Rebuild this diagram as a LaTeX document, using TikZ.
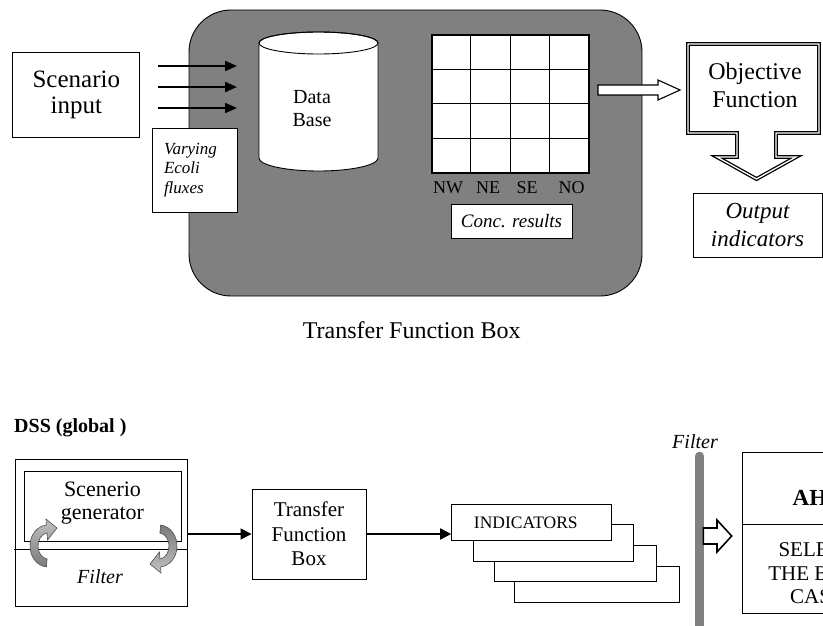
\documentclass[tikz,border=0pt]{standalone}
\usepackage{fontspec}
\setmainfont{Liberation Serif}
\usetikzlibrary{arrows.meta,calc}
\definecolor{panelgray}{HTML}{808080}
\definecolor{arrlight}{HTML}{C2C2C2}
\definecolor{arrdark}{HTML}{7A7A7A}
\definecolor{arredge}{HTML}{505050}
\begin{document}
\begin{tikzpicture}[x=1pt,y=-1pt,line join=miter,
  box/.style={draw=black,fill=white,line width=0.9pt,inner sep=0pt,align=center},
  thickarr/.style={line width=2pt,-{Triangle[length=12pt,width=10pt]}},
  arr/.style={line width=1.5pt,-{Triangle[length=11pt,width=11pt]}},
  hollow/.style={draw=black,fill=white,line width=1.1pt},
  curv/.style={draw=arredge,line width=0.6pt},
  lab/.style={inner sep=0pt,font=\fontsize{18}{20}\selectfont}]
\useasboundingbox (0,0) rectangle (823,626);
\clip (0,0) rectangle (823,626);

% ---------------- top part ----------------
\node[box,minimum width=127pt,minimum height=85pt,font=\fontsize{25}{26}\selectfont] (scen) at (76.3,94.5) {Scenario\\input};

\node[draw=black,fill=panelgray,line width=0.9pt,rounded corners=42pt,minimum width=453pt,minimum height=286pt,inner sep=0pt] (panel) at (415.5,153) {};

% input arrows
\coordinate (a1s) at (158,66);  \coordinate (a1e) at (237,66);
\coordinate (a2s) at (158,87);  \coordinate (a2e) at (237,87);
\coordinate (a3s) at (158,108); \coordinate (a3e) at (237,108);
\draw[thickarr] (a1s) -- (a1e);
\draw[thickarr] (a2s) -- (a2e);
\draw[thickarr] (a3s) -- (a3e);

% cylinder
\draw[fill=white,line width=0.9pt] (259,43) -- (259,158)
  arc[start angle=180,end angle=0,x radius=59.5,y radius=13] -- (378,43)
  arc[start angle=0,end angle=-180,x radius=59.5,y radius=11] -- cycle;
\draw[line width=0.9pt] (318.5,43) ellipse[x radius=59.5,y radius=11];
\node[align=center,font=\fontsize{20}{23}\selectfont] (db) at (312,108.5) {Data\\Base};

\node[box,minimum width=85pt,minimum height=84pt,align=left,text width=61pt,inner xsep=12pt,font=\itshape\fontsize{17}{19.5}\selectfont] (vary) at (194.5,170) {Varying\\Ecoli\\fluxes};

% grid
\node[draw=black,fill=white,line width=1.1pt,minimum width=157pt,minimum height=138pt,inner sep=0pt] (grid) at (510.5,104) {};
\foreach \i in {1,2,3} {
  \draw[line width=0.8pt] ($(grid.north west)+(\i*39.25,0)$) -- ($(grid.south west)+(\i*39.25,0)$);
  \draw[line width=0.8pt] ($(grid.north west)+(0,\i*34.5)$) -- ($(grid.north east)+(0,\i*34.5)$);
}
\node[lab] (lnw) at (448,188) {NW};
\node[lab] (lne) at (488,188) {NE};
\node[lab] (lse) at (527,188) {SE};
\node[lab] (lno) at (571.5,188) {NO};

\node[box,minimum width=121pt,minimum height=34pt,font=\itshape\fontsize{19}{22}\selectfont] (conc) at (511.5,221) {Conc. results};

% hollow arrow to objective function
\draw[hollow] (598,85) -- (658,85) -- (658,80) -- (680,90) -- (658,100) -- (658,95) -- (598,95) -- cycle;

% objective function callout
\draw[line width=1.3pt,double=white,double distance=1.3pt,fill=white]
  (688,44) -- (819,44) -- (819,133) -- (776,133) -- (776,157) -- (796,157)
  -- (756.5,179) -- (717,157) -- (737,157) -- (737,133) -- (688,133) -- cycle;
\node[align=center,font=\fontsize{24}{28}\selectfont] (obj) at (755,85) {Objective\\Function};

\node[box,minimum width=129pt,minimum height=64pt,font=\itshape\fontsize{23}{28}\selectfont] (outp) at (757.5,225) {Output\\indicators};

\node[font=\fontsize{24}{27}\selectfont] (tfl) at (411.7,330) {Transfer Function Box};

% ---------------- bottom part ----------------
\node[anchor=west,inner sep=0pt,font=\bfseries\fontsize{20}{23}\selectfont] (dss) at (14,428) {DSS (global )};

\node[draw=black,line width=0.9pt,minimum width=171.5pt,minimum height=147pt,inner sep=0pt] (dssbox) at (101.5,532.5) {};
\node[draw=black,line width=0.9pt,minimum width=157pt,minimum height=70pt,inner sep=0pt] (gen) at (102.5,506) {};
\node[align=center,font=\fontsize{22}{23.3}\selectfont] (gentxt) at (102.5,503) {Scenerio\\generator};
\coordinate (fl1) at (14,549); \coordinate (fl2) at (187,549);
\draw[line width=0.9pt] (fl1) -- (fl2);
\node[font=\itshape\fontsize{20}{23}\selectfont] (filt1) at (100,577) {Filter};

% curved arrows (elliptic U-turns)
\path[curv,top color=arrlight,bottom color=arrdark]
  (46.4,566.9) arc[start angle=95,end angle=265,x radius=18,y radius=21]
  -- (46,519) -- (57,528) -- (47.6,540) -- (47.1,533)
  arc[start angle=265,end angle=95,x radius=10,y radius=13] -- cycle;
\path[curv,top color=arrdark,bottom color=arrlight]
  (160.6,525.1) arc[start angle=275,end angle=445,x radius=18,y radius=21]
  -- (161,573) -- (150,564) -- (159.4,552) -- (159.9,559)
  arc[start angle=445,end angle=275,x radius=10,y radius=13] -- cycle;

\node[box,minimum width=114pt,minimum height=90pt,font=\fontsize{21}{24.5}\selectfont] (tf) at (309,534) {Transfer\\Function\\Box};
\draw[arr] (dssbox.east |- tf.west) -- (tf.west);

% indicator stack
\node[box,minimum width=165pt,minimum height=36.7pt] (ind4) at (596.8,584.3) {};
\node[box,minimum width=162pt,minimum height=36.7pt] (ind3) at (575,563.3) {};
\node[box,minimum width=160pt,minimum height=36.7pt] (ind2) at (553.3,542.7) {};
\node[box,minimum width=159.3pt,minimum height=36.7pt,font=\fontsize{17.5}{20}\selectfont] (ind1) at (531.3,522.3) {\hspace*{-11pt}INDICATORS};
\draw[arr] (tf.east) -- (ind1.west |- tf.east);

% filter bar
\coordinate (fb1) at (699.5,456.2); \coordinate (fb2) at (699.5,640);
\draw[line width=9pt,color=panelgray,line cap=round] (fb1) -- (fb2);
\node[font=\itshape\fontsize{20}{23}\selectfont] (filt2) at (695,441.7) {Filter};

% small hollow arrow
\draw[draw=black,fill=white,line width=1.6pt] (703.3,528) -- (717,528) -- (717,520) -- (731.7,536) -- (717,552) -- (717,544) -- (703.3,544) -- cycle;

% AHP box
\node[box,minimum width=150pt,minimum height=160.6pt] (ahp) at (817,533) {};
\draw[line width=0.9pt] (ahp.west |- 0,524.3) -- (ahp.east |- 0,524.3);
\node[font=\bfseries\fontsize{23}{26}\selectfont] (ahpt) at (817,498) {AHP};
\node[align=center,font=\fontsize{21}{23.3}\selectfont] (sel) at (817,573.3) {SELECT\\THE BEST\\CASE};
\end{tikzpicture}
\end{document}
